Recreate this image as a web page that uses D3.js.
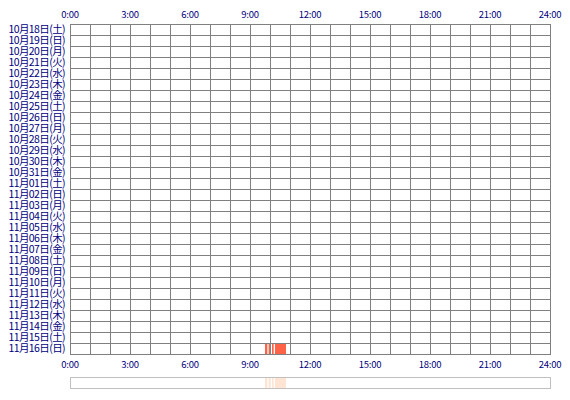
<!DOCTYPE html>
<html>
<head>
<meta charset="utf-8">
<script src="https://cdn.jsdelivr.net/npm/d3@7"></script>
<style>
  body { margin: 0; background: #fff; }
  text { font-family: "Noto Sans CJK JP", sans-serif; fill: #000080; }
</style>
</head>
<body>
<div id="chart"></div>
<script>
// Rows: dates shown on the left
var days = ["10月18日(土)", "10月19日(日)", "10月20日(月)", "10月21日(火)", "10月22日(水)",
    "10月23日(木)", "10月24日(金)", "10月25日(土)", "10月26日(日)", "10月27日(月)",
    "10月28日(火)", "10月29日(水)", "10月30日(木)", "10月31日(金)", "11月01日(土)",
    "11月02日(日)", "11月03日(月)", "11月04日(火)", "11月05日(水)", "11月06日(木)",
    "11月07日(金)", "11月08日(土)", "11月09日(日)", "11月10日(月)", "11月11日(火)",
    "11月12日(水)", "11月13日(木)", "11月14日(金)", "11月15日(土)", "11月16日(日)"];

// Active periods: day, start and end in minutes since 0:00
var activity = [
    {day: "11月16日(日)", start: 585, end: 592},
    {day: "11月16日(日)", start: 596, end: 602},
    {day: "11月16日(日)", start: 606, end: 611},
    {day: "11月16日(日)", start: 615, end: 648}
];

var tickHours = [0, 3, 6, 9, 12, 15, 18, 21, 24];

var width = 570, height = 400;
var margin = {top: 24, left: 70, right: 20};
var plotH = 330;

var svg = d3.select("#chart").append("svg")
    .attr("width", width)
    .attr("height", height);

var x = d3.scaleLinear()
    .domain([0, 24 * 60])
    .range([margin.left, width - margin.right]);

var y = d3.scaleBand()
    .domain(days)
    .range([margin.top, margin.top + plotH]);

// Activity bars
svg.append("g").selectAll("rect")
    .data(activity)
    .enter().append("rect")
    .attr("x", function(d) { return x(d.start); })
    .attr("y", function(d) { return y(d.day); })
    .attr("width", function(d) { return x(d.end) - x(d.start); })
    .attr("height", y.bandwidth())
    .style("fill", "#ff6347");

// Grid
var grid = svg.append("g")
    .attr("stroke", "#808080")
    .attr("stroke-width", 1)
    .attr("shape-rendering", "crispEdges");

grid.selectAll("line.v")
    .data(d3.range(0, 25))
    .enter().append("line")
    .attr("x1", function(h) { return x(h * 60) + 0.5; })
    .attr("x2", function(h) { return x(h * 60) + 0.5; })
    .attr("y1", margin.top)
    .attr("y2", margin.top + plotH);

grid.selectAll("line.h")
    .data(d3.range(0, days.length + 1))
    .enter().append("line")
    .attr("x1", x(0))
    .attr("x2", x(24 * 60) + 1)
    .attr("y1", function(i) { return margin.top + i * y.step() + 0.5; })
    .attr("y2", function(i) { return margin.top + i * y.step() + 0.5; });

// Row labels
svg.append("g").selectAll("text")
    .data(days)
    .enter().append("text")
    .attr("x", margin.left - 5)
    .attr("y", function(d) { return y(d) + y.bandwidth() / 2; })
    .attr("dy", "0.36em")
    .attr("text-anchor", "end")
    .style("font-size", "10.5px")
    .style("letter-spacing", "-0.6px")
    .text(function(d) { return d; });

// Hour labels top and bottom
function hourLabel(h) { return h + ":00"; }

[15, 365].forEach(function(ty) {
    svg.append("g").selectAll("text")
        .data(tickHours)
        .enter().append("text")
        .attr("x", function(h) { return x(h * 60); })
        .attr("y", ty)
        .attr("dy", "0.36em")
        .attr("text-anchor", "middle")
        .style("font-size", "9.5px")
        .style("letter-spacing", "-0.2px")
        .text(hourLabel);
});

// Overview strip
var strip = {top: 377, h: 11};
svg.append("g").selectAll("rect")
    .data(activity)
    .enter().append("rect")
    .attr("x", function(d) { return x(d.start); })
    .attr("y", strip.top)
    .attr("width", function(d) { return x(d.end) - x(d.start); })
    .attr("height", strip.h)
    .style("fill", "#ffe4d4");

svg.append("rect")
    .attr("x", x(0) + 0.5)
    .attr("y", strip.top + 0.5)
    .attr("width", x(24 * 60) - x(0))
    .attr("height", strip.h)
    .attr("shape-rendering", "crispEdges")
    .style("fill", "none")
    .style("stroke", "#c0c0c0");
</script>
</body>
</html>
